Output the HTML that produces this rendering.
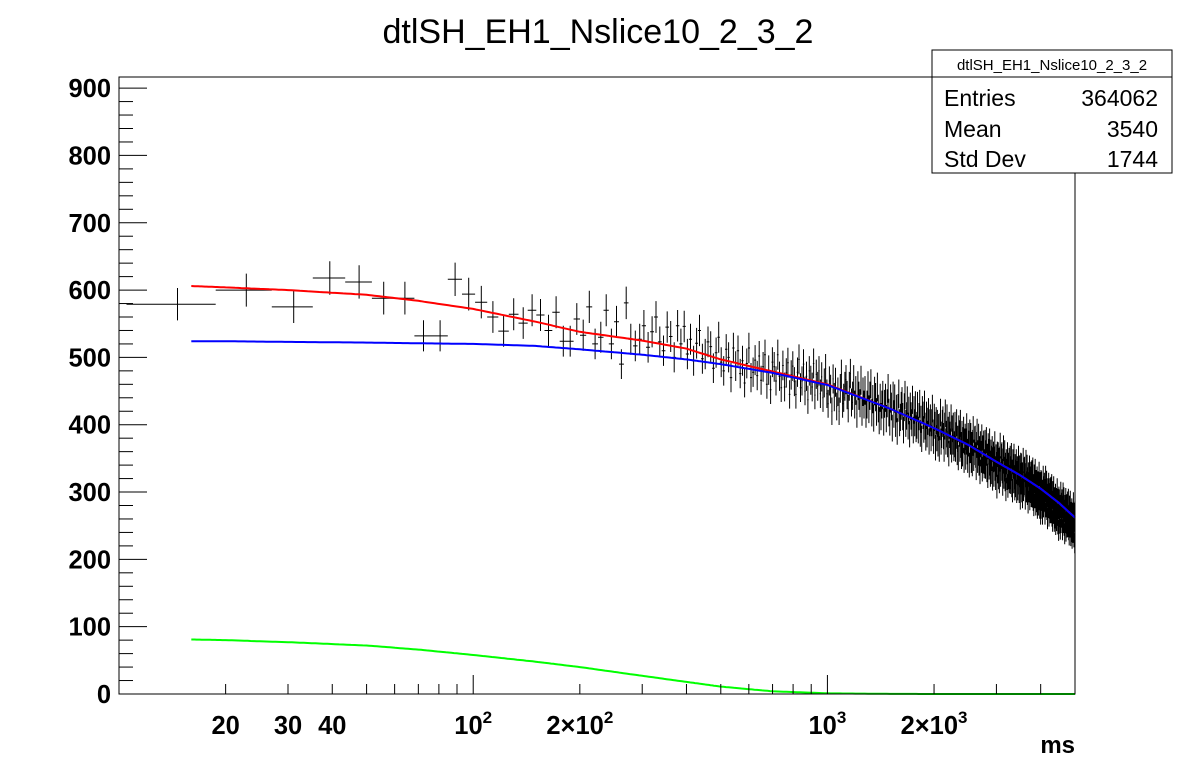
<!DOCTYPE html>
<html><head><meta charset="utf-8">
<style>
html,body{margin:0;padding:0;background:#fff;}
svg{display:block;font-family:"Liberation Sans",sans-serif;}
</style></head>
<body>
<svg id="chart" width="1196" height="772" viewBox="0 0 1196 772" xmlns="http://www.w3.org/2000/svg">
<rect x="0" y="0" width="1196" height="772" fill="#fff"/>
<text x="598" y="43" text-anchor="middle" font-size="34">dtlSH_EH1_Nslice10_2_3_2</text>
<g id="plot"></g>
<rect x="119" y="77" width="956" height="617" fill="none" stroke="#000" stroke-width="1"/>
<g>
<rect x="932" y="50" width="240" height="123" fill="#fff" stroke="#000" stroke-width="1"/>
<line x1="932" y1="77" x2="1172" y2="77" stroke="#000"/>
<text x="1052" y="70" text-anchor="middle" font-size="15">dtlSH_EH1_Nslice10_2_3_2</text>
<text x="944" y="106" font-size="23">Entries</text>
<text x="1158" y="106" text-anchor="end" font-size="23">364062</text>
<text x="944" y="137" font-size="23">Mean</text>
<text x="1158" y="137" text-anchor="end" font-size="23">3540</text>
<text x="944" y="167" font-size="23">Std Dev</text>
<text x="1158" y="167" text-anchor="end" font-size="23">1744</text>
</g>
<text x="1075" y="753" text-anchor="end" font-size="24" font-weight="bold">ms</text>
</svg>
<script>
const binStart = 10.5;
const binWidth = 8.25;
const counts = [
579,600,575,618,612,588,588,532,532,616,594,582,560,539,564,551,570,563,540,567,524,524,557,533,575,520,530,570,520,553,490,581,527,517,527,
547,515,538,560,523,510,545,531,500,547,520,546,505,527,495,521,540,498,505,523,
516,484,507,530,493,480,512,500,470,514,487,510,476,495,462,491,514,470,478,496,
473,502,466,486,504,460,481,452,493,486,465,504,472,455,488,456,477,492,445,474,
487,464,445,478,497,455,465,490,450,472,437,480,466,456,491,444,475,457,480,446,
471,440,462,483,446,431,465,453,420,468,441,463,427,449,420,454,475,431,440,457,
467,444,424,457,476,433,443,467,430,451,416,458,443,432,466,419,449,430,451,416,
430,458,423,443,461,418,438,410,450,441,419,456,424,406,440,412,430,444,404,431,
440,409,432,454,418,404,439,427,395,443,416,439,402,424,390,425,446,403,411,428,
435,412,392,426,444,402,413,436,398,421,386,427,413,403,437,392,422,403,429,394,
399,428,392,412,431,387,408,379,422,414,393,430,398,381,414,386,405,419,375,403,
410,380,403,424,388,376,411,399,366,406,380,402,372,396,364,397,418,375,385,402,
407,383,364,398,417,375,386,410,371,392,357,399,385,375,410,363,394,375,398,365,
371,399,364,384,403,359,379,351,394,387,364,402,370,353,386,357,377,392,347,375,
382,352,375,397,360,347,383,372,340,388,362,383,347,370,342,373,393,350,359,378,
379,355,336,370,389,347,358,382,343,364,330,371,357,347,381,334,365,346,372,339,
345,373,338,358,377,333,353,324,368,360,337,375,343,326,359,330,350,364,320,348,
356,326,349,371,335,321,352,341,308,356,331,355,322,347,316,349,369,326,335,353,
355,331,312,346,365,323,334,358,319,340,304,345,331,321,355,309,340,322,347,316,
322,350,315,335,354,310,330,302,345,338,316,353,322,305,338,310,330,345,301,328,
335,305,328,350,314,301,336,325,291,340,314,339,302,326,293,326,347,304,313,333,
334,310,291,325,344,302,313,337,298,319,285,326,312,302,336,290,320,301,327,295,
301,329,294,314,333,289,309,281,323,316,293,331,299,282,315,287,306,320,277,305,
313,282,304,327,290,277,312,300,268,315,289,313,277,301,268,301,321,279,288,306,
311,287,268,302,321,279,290,314,275,295,261,303,288,278,311,265,296,277,303,270,
277,305,270,290,309,265,285,257,299,292,269,306,274,257,290,262,281,295,252,280,
289,258,280,303,266,253,288,276,243,291,264,287,254,279,245,278,298,255,264,282,
287,263,244,278,297,255,266,290,251,272,238,279,265,255,289,242,273,254,280,248,
256,284,249,269,288,244,264,236,278,270,248,285,253,235,269,241,260,274,231,258,
268,240,262,283,247,233,268,257,224,270
];
const fitX     = [16,20,30,50,70,100,150,200,300,400,500,700,1000,1500,2000,2500,3000,3500,4000,4500,5000];
const fitRed   = [606,604,600,593,584,572,553,538,525,513,497,479,460,424,395,370,345,325,305,284,262];
const fitBlue  = [524,524,523,522,521,520,517,512,504,497,490,477,459,424,395,370,345,325,305,284,262];
const fitGreen = [81,80,77,72,66,58,48,40,27,18,11,4,1,0.2,0,0,0,0,0,0,0];
const yTicks = [0,100,200,300,400,500,600,700,800,900];
const xMajor = [100,1000];
const xLabels = [[20,"20"],[30,"30"],[40,"40"],[100,"10","2"],[200,"2\u00d710","2"],[1000,"10","3"],[2000,"2\u00d710","3"]];

const X0=119, X1=1075, Y0=694, Y1=77;
const xmin=10, xmax=5000, ymin=0, ymax=916.5;
const NS="http://www.w3.org/2000/svg";
function xs(v){return X0+(Math.log10(v)-Math.log10(xmin))/(Math.log10(xmax)-Math.log10(xmin))*(X1-X0);}
function ys(v){return Y0-(v-ymin)/(ymax-ymin)*(Y0-Y1);}
const svg=document.getElementById('chart');
const plot=document.getElementById('plot');
function mk(tag,attrs,parent){const e=document.createElementNS(NS,tag);for(const k in attrs)e.setAttribute(k,attrs[k]);(parent||svg).appendChild(e);return e;}

for(let v=0;v<=900;v+=20){
  const major=(v%100===0);
  const t=mk('line',{x1:X0,x2:X0+(major?28:14),y1:ys(v),y2:ys(v),stroke:'#000','stroke-width':1});
  
  
}
yTicks.forEach(v=>{
  const t=mk('text',{x:111,y:ys(v)+9,'text-anchor':'end','font-size':25.5,'font-weight':'bold'});
  t.textContent=String(v);
  
  
});
for(let d=10;d<=1000;d*=10){
  for(let m=1;m<=9;m++){
    const v=d*m; if(v<xmin||v>xmax) continue;
    const major=xMajor.includes(v);
    const t=mk('line',{x1:xs(v),x2:xs(v),y1:Y0,y2:Y0-(major?19:10),stroke:'#000','stroke-width':1});
    
    
  }
}
xLabels.forEach(l=>{
  const t=mk('text',{x:xs(l[0]),y:734,'text-anchor':'middle','font-size':25.5,'font-weight':'bold'});
  t.textContent=l[1];
  if(l[2]){const s=mk('tspan',{dy:-11,'font-size':17},t);s.textContent=l[2];}
  
  
});

let d='';
counts.forEach((c,i)=>{
  const lo=binStart+i*binWidth, hi=lo+binWidth, cx=lo+binWidth/2;
  if(cx>xmax) return;
  const px=xs(cx), py=ys(c), e=Math.sqrt(c);
  const a=Math.max(xs(Math.max(lo,xmin)),X0), b=Math.min(xs(hi),X1);
  d+=`M${a.toFixed(1)},${py.toFixed(1)}H${b.toFixed(1)}M${px.toFixed(1)},${ys(c+e).toFixed(1)}V${Math.min(ys(c-e),Y0).toFixed(1)}`;
});
const pts=mk('path',{d:d,stroke:'#000','stroke-width':1,fill:'none'},plot);



function curve(vals,color,name){
  let p='';
  for(let i=0;i<fitX.length-1;i++){
    const n=20;
    for(let j=0;j<n;j++){
      const t=j/n;
      const lx=Math.log10(fitX[i])*(1-t)+Math.log10(fitX[i+1])*t;
      const v=vals[i]*(1-t)+vals[i+1]*t;
      p+=(p?'L':'M')+xs(Math.pow(10,lx)).toFixed(1)+','+ys(v).toFixed(1);
    }
  }
  p+='L'+xs(fitX[fitX.length-1]).toFixed(1)+','+ys(vals[vals.length-1]).toFixed(1);
  const e=mk('path',{d:p,stroke:color,'stroke-width':2,fill:'none'},plot);
  
  
}
curve(fitGreen,'#00ff00','fit-green-curve');
curve(fitRed,'#ff0000','fit-red-curve');
curve(fitBlue,'#0000ff','fit-blue-curve');
</script>
</body></html>
